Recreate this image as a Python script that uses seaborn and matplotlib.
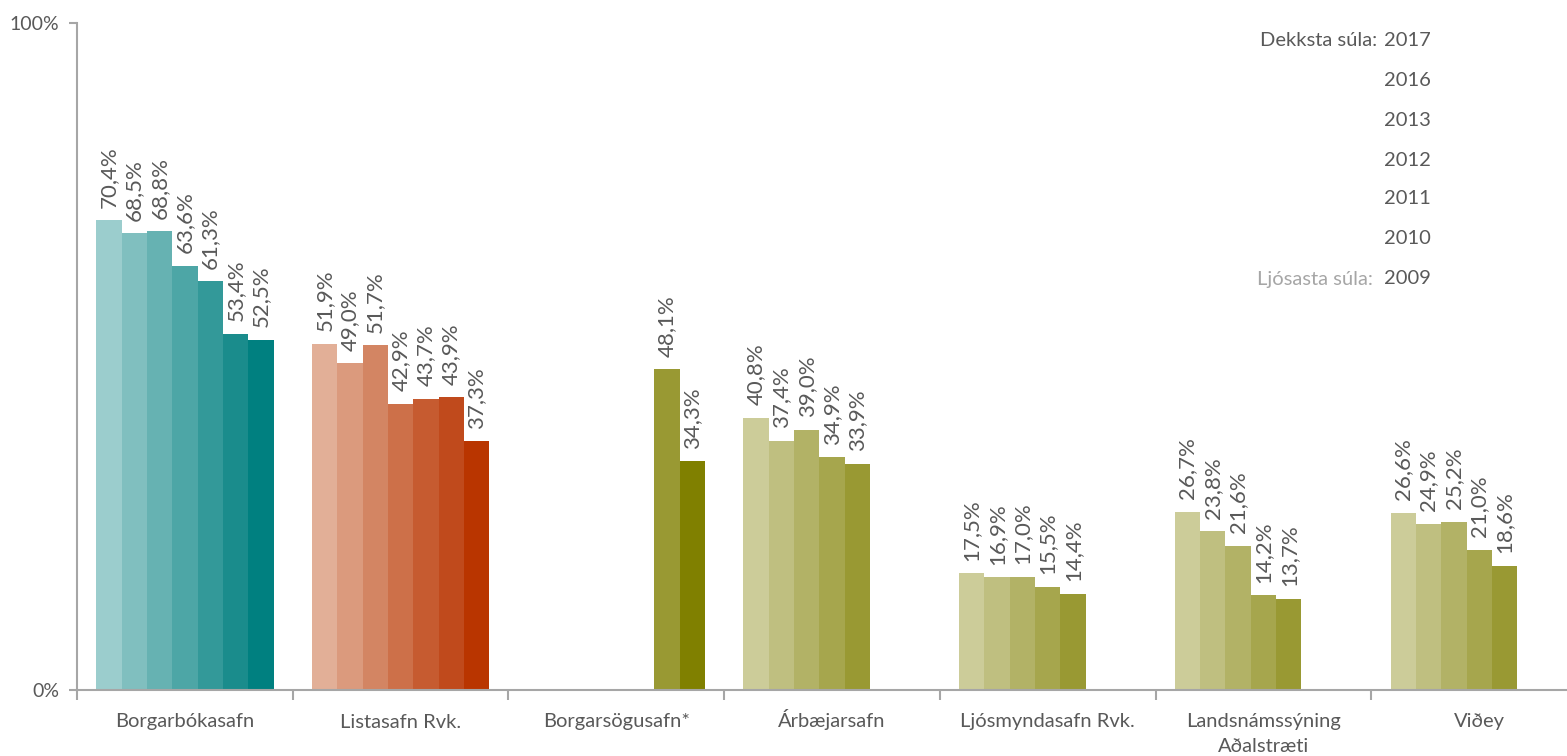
import numpy as np
import pandas as pd
import matplotlib
matplotlib.use("Agg")
import matplotlib.pyplot as plt
import seaborn as sns

categories = ["Borgarbókasafn", "Listasafn Rvk.", "Borgarsögusafn*", "Árbæjarsafn",
              "Ljósmyndasafn Rvk.", "Landsnámssýning\nAðalstræti", "Viðey"]
years = ["2009", "2010", "2011", "2012", "2013", "2016", "2017"]

borgarbokasafn = [70.4, 68.5, 68.8, 63.6, 61.3, 53.4, 52.5]
listasafn = [51.9, 49.0, 51.7, 42.9, 43.7, 43.9, 37.3]
borgarsogusafn = [None, None, None, None, None, 48.1, 34.3]
arbaejarsafn = [40.8, 37.4, 39.0, 34.9, 33.9, None, None]
ljosmyndasafn = [17.5, 16.9, 17.0, 15.5, 14.4, None, None]
landnams = [26.7, 23.8, 21.6, 14.2, 13.7, None, None]
videy = [26.6, 24.9, 25.2, 21.0, 18.6, None, None]
series = [borgarbokasafn, listasafn, borgarsogusafn, arbaejarsafn, ljosmyndasafn, landnams, videy]

teal = ["#9BCDCD", "#80BFBF", "#66B2B2", "#4DA6A6", "#339999", "#1A8C8C", "#008080"]
orange = ["#E2AF97", "#DB9A7D", "#D38563", "#CD7049", "#C65B30", "#C04A1C", "#B93500"]
olive = ["#CCCC99", "#BFBF80", "#B2B266", "#A6A64D", "#999933", "#999933", "#808000"]
palettes = [teal, orange, olive, olive, olive, olive, olive]

rows = []
for c, vals in zip(categories, series):
    for y, v in zip(years, vals):
        if v is not None:
            rows.append({"cat": c, "year": y, "val": v / 100.0})
df = pd.DataFrame(rows)

sns.set_style("white")
plt.rcParams["font.family"] = ["Lato", "DejaVu Sans"]
txt = "#595959"
axc = "#A6A6A6"

fig = plt.figure(figsize=(15.67, 7.56), dpi=100)
ax = fig.add_axes([77 / 1567, 1 - 690 / 756, 1 - 77 / 1567, (690 - 23) / 756])

sns.barplot(data=df, x="cat", y="val", hue="year", order=categories, hue_order=years,
            width=0.822, gap=0, dodge=True, ax=ax, legend=False, saturation=1,
            edgecolor="none", linewidth=0)

for yi, cont in enumerate(ax.containers):
    labels = []
    for p in cont.patches:
        cx = p.get_x() + p.get_width() / 2
        ci = int(round(cx))
        p.set_facecolor(palettes[ci][yi])
        h = p.get_height()
        labels.append("" if np.isnan(h) else f"{h*100:.1f}%".replace(".", ","))
    ax.bar_label(cont, labels=labels, rotation=90, padding=9, fontsize=16, color=txt)

ax.set_yticks([0, 1])
ax.set_yticklabels(["0%", "100%"])
ax.set_xticks(range(len(categories)))
ax.set_xticklabels([""] * len(categories))
ax.set_xticks(np.arange(-0.5, 6.0, 1.0), minor=True)
ax.set_xlim(-0.5, 6.407)
ax.set_ylim(0, 1)
ax.tick_params(axis="x", which="major", bottom=True, length=0)
ax.tick_params(axis="x", which="minor", bottom=True, length=7, width=1.5, color=axc, direction="out")
ax.tick_params(axis="y", which="major", left=True, length=6, width=1.5, color=axc, pad=7,
               labelsize=14, labelcolor=txt, direction="out")

# category labels, aligned on the baseline of each line
for i, cat in enumerate(categories):
    for k, line in enumerate(cat.split("\n")):
        ax.annotate(line, xy=(i, 0), xycoords=("data", "axes fraction"),
                    xytext=(0, -27 - 18 * k), textcoords="offset points",
                    ha="center", va="baseline", fontsize=14.5, color=txt,
                    annotation_clip=False)

ax.set_xlabel("")
ax.set_ylabel("")
for s in ["top", "right"]:
    ax.spines[s].set_visible(False)
for s in ["left", "bottom"]:
    ax.spines[s].set_color(axc)
    ax.spines[s].set_linewidth(1.5)

# legend note
legend_years = years[::-1]
ypos = [40, 80, 120, 160, 199, 239, 279]
for yr, yp in zip(legend_years, ypos):
    fig.text(1384 / 1567, 1 - yp / 756, yr, ha="left", va="center", fontsize=14.5, color=txt)
fig.text(1377 / 1567, 1 - 40 / 756, "Dekksta súla:", ha="right", va="center", fontsize=14.5, color=txt)
fig.text(1373 / 1567, 1 - 279 / 756, "Ljósasta súla:", ha="right", va="center", fontsize=14.5, color="#A6A6A6")

fig.savefig("out.png", dpi=100)
